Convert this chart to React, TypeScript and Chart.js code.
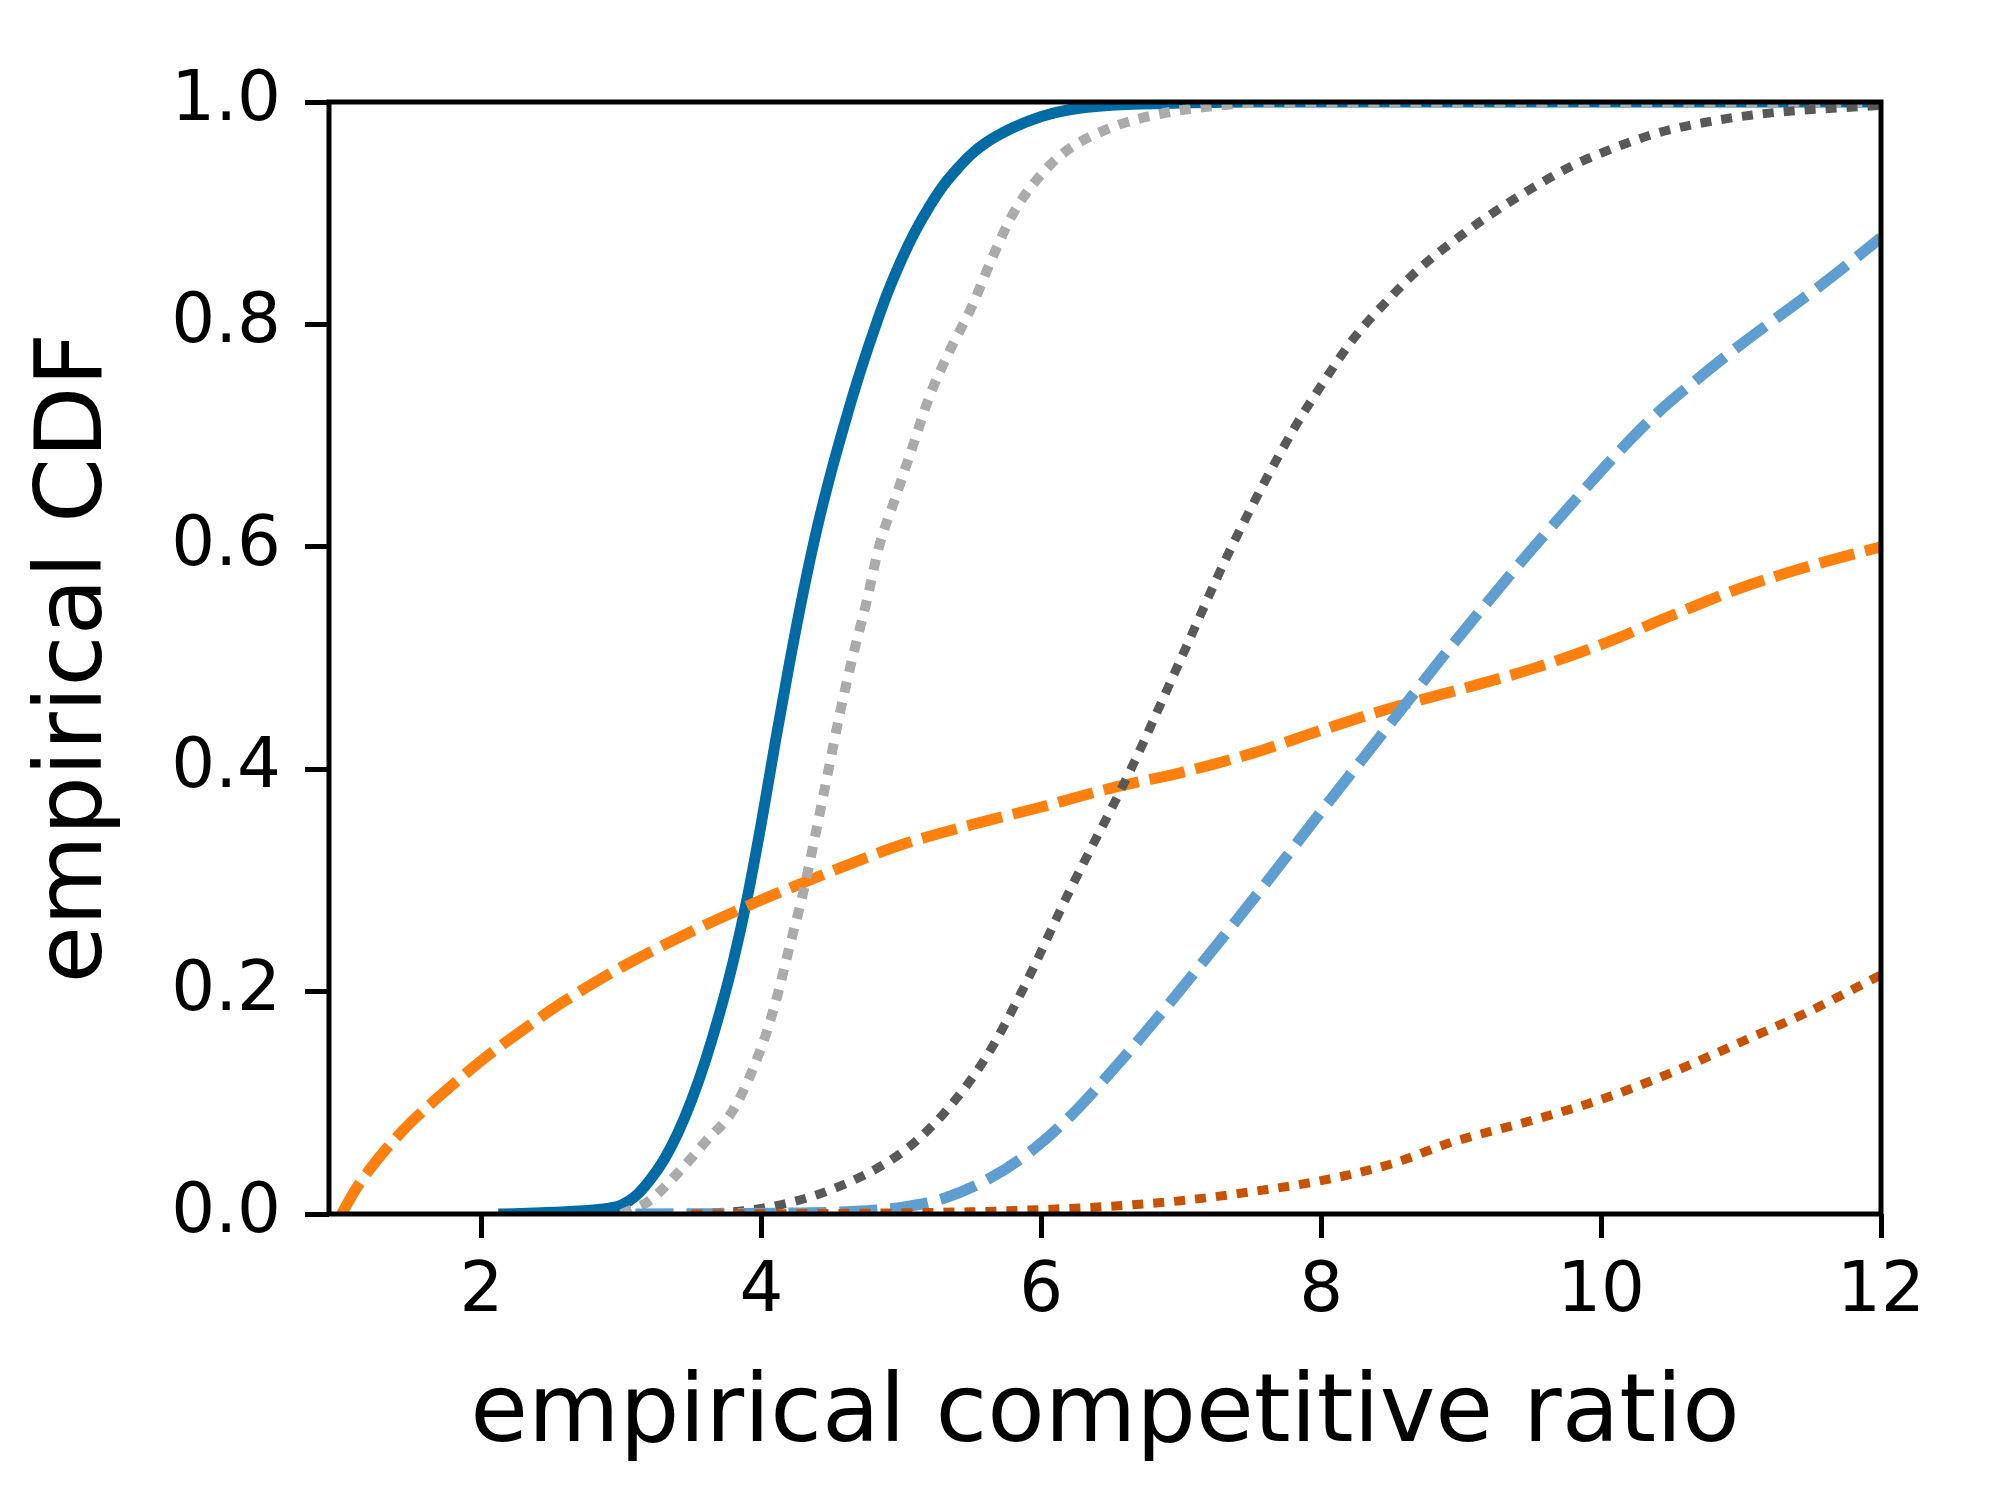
import React, { useEffect, useRef } from "react";
import { Chart, registerables } from "chart.js";

Chart.register(...registerables);

const FONT = "DejaVu Sans";

const X_TICKS = [2, 4, 6, 8, 10, 12];
const Y_TICKS = [0, 0.2, 0.4, 0.6, 0.8, 1.0];

// C0: solid dark blue
const BLUE_X = [2.12, 2.6, 2.9, 3.0, 3.1, 3.2, 3.3, 3.4, 3.5, 3.6, 3.7, 3.8, 3.9, 4.0, 4.1, 4.2, 4.3, 4.4, 4.5, 4.6, 4.7, 4.8, 4.9, 5.0, 5.1, 5.2, 5.3, 5.4, 5.5, 5.6, 5.8, 6.0, 6.2, 6.5, 7.0, 7.5, 12];
const BLUE_Y = [0, 0.002, 0.005, 0.008, 0.016, 0.03, 0.048, 0.072, 0.102, 0.138, 0.18, 0.228, 0.285, 0.352, 0.425, 0.495, 0.56, 0.618, 0.668, 0.713, 0.755, 0.793, 0.828, 0.858, 0.884, 0.906, 0.925, 0.94, 0.953, 0.963, 0.977, 0.987, 0.993, 0.997, 0.999, 1.0, 1.0];

// C1: orange dashed
const ORANGE_X = [1.0, 1.1, 1.2, 1.35, 1.5, 1.7, 2.0, 2.3, 2.6, 3.0, 3.5, 3.9, 4.3, 4.7, 5.0, 5.5, 6.0, 6.5, 7.0, 7.5, 8.0, 8.5, 9.0, 9.5, 10.0, 10.5, 11.0, 11.5, 12.0];
const ORANGE_Y = [0, 0.022, 0.04, 0.063, 0.083, 0.106, 0.138, 0.166, 0.192, 0.222, 0.254, 0.277, 0.298, 0.318, 0.332, 0.35, 0.366, 0.383, 0.397, 0.414, 0.435, 0.455, 0.472, 0.49, 0.512, 0.538, 0.563, 0.583, 0.6];

// C2: light grey dotted
const LGRAY_X = [3.0, 3.2, 3.44, 3.6, 3.8, 4.0, 4.1, 4.2, 4.3, 4.4, 4.48, 4.56, 4.65, 4.75, 4.84, 4.96, 5.08, 5.2, 5.34, 5.5, 5.65, 5.8, 6.0, 6.2, 6.5, 6.8, 7.2, 7.7, 12];
const LGRAY_Y = [0, 0.012, 0.042, 0.065, 0.094, 0.15, 0.19, 0.24, 0.29, 0.35, 0.4, 0.45, 0.5, 0.55, 0.6, 0.645, 0.69, 0.735, 0.775, 0.815, 0.86, 0.9, 0.935, 0.958, 0.977, 0.988, 0.996, 1.0, 1.0];

// C3: dark grey dotted
const DGRAY_X = [3.5, 4.0, 4.5, 5.0, 5.3, 5.6, 5.86, 6.2, 6.64, 7.0, 7.36, 7.8, 8.0, 8.23, 8.5, 8.7, 9.0, 9.2, 9.5, 9.8, 10.1, 10.4, 10.8, 11.2, 12];
const DGRAY_Y = [0, 0.005, 0.022, 0.055, 0.09, 0.14, 0.2, 0.29, 0.4, 0.5, 0.6, 0.705, 0.745, 0.787, 0.825, 0.85, 0.88, 0.898, 0.922, 0.943, 0.959, 0.972, 0.983, 0.99, 0.997];

// C4: light blue dashed
const LBLUE_X = [3.1, 4.3, 4.6, 5.0, 5.3, 5.6, 5.9, 6.2, 6.5, 6.8, 7.1, 7.4, 7.7, 8.0, 8.3, 8.6, 8.9, 9.2, 9.5, 9.8, 10.1, 10.4, 10.7, 11.0, 11.3, 11.6, 12];
const LBLUE_Y = [0, 0.001, 0.002, 0.006, 0.014, 0.03, 0.054, 0.087, 0.128, 0.172, 0.218, 0.265, 0.313, 0.362, 0.41, 0.458, 0.506, 0.552, 0.597, 0.64, 0.682, 0.72, 0.752, 0.782, 0.81, 0.838, 0.878];

// C5: dark orange dotted
const DORANGE_X = [3.5, 4.5, 5.5, 6.0, 6.5, 7.0, 7.5, 8.0, 8.5, 8.92, 9.5, 10.0, 10.5, 11.06, 11.5, 12.0];
const DORANGE_Y = [0, 0.0005, 0.002, 0.004, 0.007, 0.012, 0.02, 0.03, 0.045, 0.064, 0.084, 0.103, 0.127, 0.158, 0.183, 0.215];

const SERIES = [
  { xs: BLUE_X, ys: BLUE_Y, color: "#006BA4", dash: [] as number[], width: 11 },
  { xs: ORANGE_X, ys: ORANGE_Y, color: "#FF800E", dash: [36, 11], width: 11 },
  { xs: LGRAY_X, ys: LGRAY_Y, color: "#ABABAB", dash: [11, 10], width: 10 },
  { xs: DGRAY_X, ys: DGRAY_Y, color: "#595959", dash: [11, 10], width: 9 },
  { xs: LBLUE_X, ys: LBLUE_Y, color: "#5F9ED1", dash: [38, 13], width: 11 },
  { xs: DORANGE_X, ys: DORANGE_Y, color: "#C85200", dash: [11, 10], width: 9 },
];

const framePlugin = {
  id: "frame",
  afterDatasetsDraw(chart: any) {
    const { ctx, chartArea: a } = chart;
    ctx.save();
    ctx.strokeStyle = "#000";
    ctx.lineWidth = 5;
    ctx.strokeRect(a.left, a.top, a.right - a.left, a.bottom - a.top);
    ctx.restore();
  },
};

export default function App() {
  const ref = useRef<HTMLCanvasElement | null>(null);

  useEffect(() => {
    if (!ref.current) return;
    const datasets = SERIES.map((s, i) => ({
      data: s.xs.map((x, k) => ({ x, y: s.ys[k] })),
      borderColor: s.color,
      backgroundColor: s.color,
      borderWidth: s.width,
      borderDash: s.dash,
      borderCapStyle: "butt" as const,
      pointRadius: 0,
      fill: false,
      cubicInterpolationMode: "monotone" as const,
      clip: 0,
      order: SERIES.length - 1 - i,
    }));

    const chart = new Chart(ref.current, {
      type: "line",
      data: { datasets },
      plugins: [framePlugin],
      options: {
        responsive: false,
        maintainAspectRatio: false,
        animation: false,
        devicePixelRatio: 1,
        layout: { padding: { left: 0, top: 102, right: 119, bottom: 0 } },
        plugins: { legend: { display: false }, tooltip: { enabled: false } },
        scales: {
          x: {
            type: "linear",
            min: 0.91,
            max: 12,
            afterFit: (s: any) => {
              s.height = 286;
            },
            afterBuildTicks: (s: any) => {
              s.ticks = X_TICKS.map((v) => ({ value: v }));
            },
            grid: {
              display: true,
              drawOnChartArea: false,
              drawTicks: true,
              tickLength: 24,
              tickWidth: 5,
              color: "#000",
              tickColor: "#000",
            },
            border: { display: false },
            ticks: {
              font: { family: FONT, size: 69 },
              color: "#000",
              padding: 14,
              maxRotation: 0,
              autoSkip: false,
              callback: (v: any) => String(v),
            },
            title: {
              display: true,
              text: "empirical competitive ratio",
              font: { family: FONT, size: 94 },
              color: "#000",
              padding: { top: 0, bottom: 27 },
            },
          },
          y: {
            type: "linear",
            min: 0,
            max: 1,
            afterFit: (s: any) => {
              s.width = 329;
            },
            afterBuildTicks: (s: any) => {
              s.ticks = Y_TICKS.map((v) => ({ value: v }));
            },
            grid: {
              display: true,
              drawOnChartArea: false,
              drawTicks: true,
              tickLength: 24,
              tickWidth: 5,
              color: "#000",
              tickColor: "#000",
            },
            border: { display: false },
            ticks: {
              font: { family: FONT, size: 69 },
              color: "#000",
              padding: 24,
              autoSkip: false,
              callback: (v: any) => Number(v).toFixed(1),
            },
            title: {
              display: true,
              text: "empirical CDF",
              font: { family: FONT, size: 93 },
              color: "#000",
              padding: { top: 21, bottom: 0 },
            },
          },
        },
      },
    });
    return () => chart.destroy();
  }, []);

  return (
    <div style={{ position: "fixed", left: 0, top: 0, width: 2000, height: 1500, background: "#fff" }}>
      <canvas ref={ref} width={2000} height={1500} style={{ display: "block", width: 2000, height: 1500 }} />
    </div>
  );
}
